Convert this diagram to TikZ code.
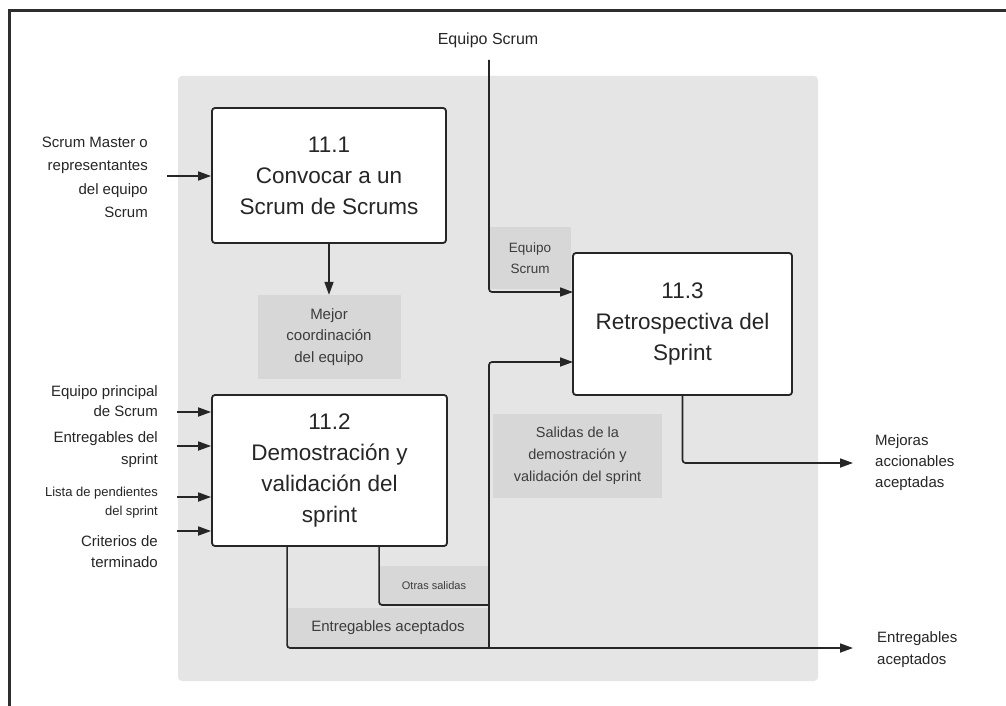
\documentclass[tikz,border=0pt]{standalone}
\usepackage{fontspec}
\setmainfont{Liberation Sans}
\usetikzlibrary{arrows.meta}

\definecolor{panel}{HTML}{E5E5E5}
\definecolor{tagfill}{HTML}{D7D7D7}
\definecolor{ink}{HTML}{262626}
\definecolor{frameink}{HTML}{2E2E2E}

\begin{document}
\begin{tikzpicture}[x=1pt,y=-1pt,
  proc/.style={draw=ink, line width=1.8pt, fill=white, rounded corners=3pt,
    align=center, text=ink, inner sep=0pt,
    font=\fontsize{22.5}{31}\selectfont},
  tagbox/.style={fill=tagfill, align=center, text=ink!90, inner sep=0pt},
  lbl/.style={text=ink, inner sep=0pt, font=\fontsize{15}{22}\selectfont},
  wire/.style={draw=ink, line width=1.7pt, rounded corners=3pt},
  flow/.style={wire, -{Triangle[length=13pt,width=9pt]}}
]
\useasboundingbox (0,0) rectangle (1006,706);
\fill[white] (0,0) rectangle (1006,706);

% outer frame (open to the right and bottom)
\draw[frameink, line width=3pt] (9,706) -- (9,11) -- (1006,11);

% process area
\fill[panel, rounded corners=4pt] (178,76) rectangle (818,681);

% process boxes
\node[proc, minimum width=234pt, minimum height=135pt] (p1) at (329,175.5)
  {11.1\\Convocar a un\\Scrum de Scrums};
\node[proc, minimum width=235pt, minimum height=151pt] (p2) at (329.5,470.5)
  {11.2\\Demostración y\\validación del\\sprint};
\node[proc, minimum width=219pt, minimum height=142pt] (p3) at (682.5,324)
  {11.3\\Retrospectiva del\\Sprint};

% shaded labels inside the area
\node[tagbox, minimum width=143pt, minimum height=84pt,
  font=\fontsize{15}{21.5}\selectfont] (coord) at (329,337)
  {Mejor\\coordinación\\del equipo};
\node[tagbox, minimum width=82pt, minimum height=62pt,
  font=\fontsize{13.5}{21}\selectfont] (eqs) at (530,258)
  {Equipo\\Scrum};
\node[tagbox, minimum width=169pt, minimum height=84pt,
  font=\fontsize{14.5}{22}\selectfont] (sal) at (577.5,456)
  {Salidas de la\\demostración y\\validación del sprint};
\node[tagbox, minimum width=108pt, minimum height=39pt,
  font=\fontsize{11}{13}\selectfont] (otras) at (434,585.5)
  {Otras salidas};
\node[tagbox, minimum width=200pt, minimum height=39pt,
  font=\fontsize{15}{18}\selectfont] (entacc) at (388,627.5)
  {Entregables aceptados};

% external inputs and outputs
\node[lbl, font=\fontsize{16}{20}\selectfont] (team) at (488,40) {Equipo Scrum};
\node[lbl, align=right, anchor=east, font=\fontsize{15}{23.5}\selectfont]
  (sm) at (148,177.5) {Scrum Master o\\representantes\\del equipo\\Scrum};
\node[lbl, align=right, anchor=east, font=\fontsize{15}{20}\selectfont]
  (in1) at (158,401) {Equipo principal\\de Scrum};
\node[lbl, align=right, anchor=east, font=\fontsize{15}{22}\selectfont]
  (in2) at (158,449.5) {Entregables del\\sprint};
\node[lbl, align=right, anchor=east, font=\fontsize{13}{19}\selectfont]
  (in3) at (158,503) {Lista de pendientes\\del sprint};
\node[lbl, align=right, anchor=east, font=\fontsize{15}{21}\selectfont]
  (in4) at (158,552) {Criterios de\\terminado};
\node[lbl, align=left, anchor=west, font=\fontsize{15}{21}\selectfont]
  (mej) at (875,463) {Mejoras\\accionables\\aceptadas};
\node[lbl, align=left, anchor=west, font=\fontsize{15}{22}\selectfont]
  (ent) at (877,650) {Entregables\\aceptados};

% wire end points
\coordinate (t0) at (489,60);
\coordinate (a0) at (167,176);
\coordinate (i1) at (177,412);
\coordinate (i2) at (177,446);
\coordinate (i3) at (177,497);
\coordinate (i4) at (177,531);
\coordinate (o1) at (853,463);
\coordinate (o2) at (853,648);
\coordinate (j1) at (489,605);
\coordinate (j2) at (489,648);
\coordinate (q1) at (573,292);
\coordinate (q2) at (573,362);

% connectors
\draw[flow] (t0) |- (q1);
\draw[flow] (a0) -- (a0 -| p1.west);
\draw[flow] (p1.south) -- (coord.north);
\draw[flow] (i1) -- (i1 -| p2.west);
\draw[flow] (i2) -- (i2 -| p2.west);
\draw[flow] (i3) -- (i3 -| p2.west);
\draw[flow] (i4) -- (i4 -| p2.west);
\draw[flow] (p3.south) |- (o1);
\draw[flow] ([xshift=76pt]p2.south west) |- (o2);
\draw[wire] ([xshift=168pt]p2.south west) |- (j1);
\draw[flow] (j2) |- (q2);
\end{tikzpicture}
\end{document}
